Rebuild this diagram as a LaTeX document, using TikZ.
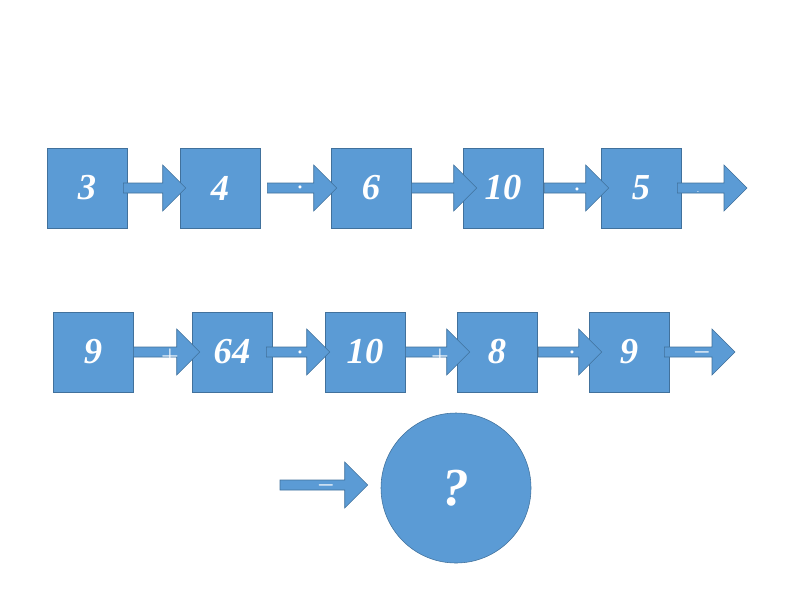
\documentclass[tikz,border=0pt]{standalone}
\usepackage{fontspec}
\setmainfont{Liberation Serif}
\usepackage{tikz}
\usetikzlibrary{calc}

\definecolor{boxblue}{HTML}{5B9BD5}
\definecolor{edgeblue}{HTML}{41719C}

\tikzset{
  numbox/.style={draw=edgeblue, fill=boxblue, minimum size=80*0.025cm, inner sep=0pt,
    text=white, font=\fontsize{26}{30}\selectfont\bfseries\itshape},
  blockarrow/.style={draw=edgeblue, fill=boxblue, line join=miter},
  opsign/.style={text=white, inner sep=0pt, font=\fontsize{15}{15}\selectfont\boldmath}
}

% block arrow from #1 to tip #2
\newcommand{\blockarr}[2]{%
  \draw[blockarrow] ($(#1)+(0,-5)$) -- ($(#2)+(-23,-5)$) -- ($(#2)+(-23,-23)$) -- (#2)
    -- ($(#2)+(-23,23)$) -- ($(#2)+(-23,5)$) -- ($(#1)+(0,5)$) -- cycle;}

\begin{document}
\begin{tikzpicture}[x=0.025cm, y=-0.025cm]
  \useasboundingbox (0,0) rectangle (800,600);

  % first row
  \node[numbox] (b1) at (87,188) {3};
  \node[numbox] (b2) at (220,188) {4};
  \node[numbox] (b3) at (371,188) {6};
  \node[numbox] (b4) at (503,188) {10};
  \node[numbox] (b5) at (641,188) {5};
  \coordinate (e1) at (747,188);

  \blockarr{$(b1.east)+(-4,0)$}{$(b2.west)+(6,0)$}
  \blockarr{$(b2.east)+(7,0)$}{$(b3.west)+(6,0)$}
  \blockarr{b3.east}{$(b4.west)+(14,0)$}
  \blockarr{$(b4.east)+(1,0)$}{$(b5.west)+(8,0)$}
  \blockarr{$(b5.east)+(-4,0)$}{e1}

  \node[opsign] (s1) at (300,188) {$\cdot$};
  \node[opsign] (s2) at (577,190) {$\cdot$};
  \node[opsign, font=\fontsize{7}{7}\selectfont] (s3) at (698,192) {$\cdot$};

  % second row
  \node[numbox] (c1) at (93,352) {9};
  \node[numbox] (c2) at (232,352) {64};
  \node[numbox] (c3) at (365,352) {10};
  \node[numbox] (c4) at (497,352) {8};
  \node[numbox] (c5) at (629,352) {9};
  \coordinate (e2) at (735,352);

  \blockarr{c1.east}{$(c2.west)+(8,0)$}
  \blockarr{$(c2.east)+(-6,0)$}{$(c3.west)+(5,0)$}
  \blockarr{c3.east}{$(c4.west)+(13,0)$}
  \blockarr{$(c4.east)+(1,0)$}{$(c5.west)+(13,0)$}
  \blockarr{$(c5.east)+(-5,0)$}{e2}

  \node[opsign] (t1) at (170,356) {$+$};
  \node[opsign] (t2) at (300,353) {$\cdot$};
  \node[opsign] (t3) at (440,356) {$+$};
  \node[opsign] (t4) at (572,353) {$\cdot$};
  \node[opsign] (t5) at (702,352) {$-$};

  % answer
  \node[circle, draw=edgeblue, fill=boxblue, minimum size=150*0.025cm, inner sep=0pt,
    text=white, font=\fontsize{38}{42}\selectfont\bfseries\itshape] (q) at (456,488) {?};
  \coordinate (a0) at (280,485);
  \blockarr{a0}{$(q.west)+(-13,-3)$}
  \node[opsign] (t6) at (326,485) {$-$};
\end{tikzpicture}
\end{document}
